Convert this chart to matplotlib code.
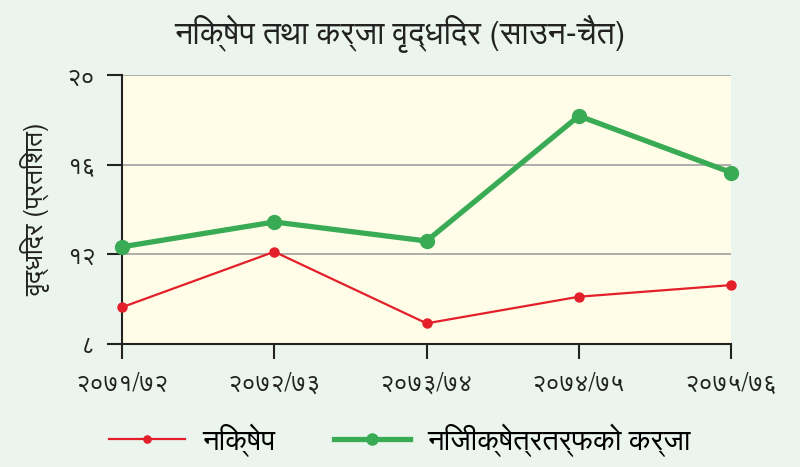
import matplotlib
matplotlib.use("Agg")
import matplotlib.pyplot as plt
from matplotlib import font_manager as fm

# pick an installed font that has Devanagari glyphs, if any
deva_font = None
for f in fm.fontManager.ttflist:
    if "Devanagari" in f.name or "Lohit" in f.name or f.name in ("FreeSans", "Mukta", "Kalimati"):
        deva_font = f.name
        break
families = ([deva_font] if deva_font else []) + ["Noto Sans", "DejaVu Sans"]
plt.rcParams["font.family"] = families

years = ["२०७१/७२", "२०७२/७३", "२०७३/७४", "२०७४/७५", "२०७५/७६"]
deposit = [9.63, 12.11, 8.91, 10.10, 10.62]
private_credit = [12.33, 13.44, 12.59, 18.18, 15.65]
y_ticks = [8, 12, 16, 20]
y_tick_labels = ["८", "१२", "१६", "२०"]

title = "निक्षेप तथा कर्जा वृद्धिदर (साउन-चैत)"
y_label = "वृद्धिदर (प्रतिशत)"
legend_labels = ["निक्षेप", "निजीक्षेत्रतर्फको कर्जा"]

fig = plt.figure(figsize=(8, 4.67), dpi=100)
fig.patch.set_facecolor("#ebf5ee")
ax = fig.add_axes([0.1525, 0.264, 0.7615, 0.575])
ax.set_facecolor("#fffde8")

x = list(range(len(years)))
ax.plot(x, deposit, color="#e3202a", lw=1.6, marker="o", ms=6.5,
        label=legend_labels[0], clip_on=False, zorder=3)
ax.plot(x, private_credit, color="#3aab55", lw=3.8, marker="o", ms=10,
        label=legend_labels[1], clip_on=False, zorder=4)

ax.set_xlim(0, 4)
ax.set_ylim(8, 20)
ax.set_yticks(y_ticks)
ax.set_yticklabels(y_tick_labels)
ax.set_xticks(x)
ax.set_xticklabels(years)
ax.yaxis.grid(True, color="#a0a0a0", lw=1.2)
ax.set_axisbelow(True)
for s in ["top", "right"]:
    ax.spines[s].set_visible(False)
for s in ["left", "bottom"]:
    ax.spines[s].set_color("#222222")
    ax.spines[s].set_linewidth(1.5)
ax.tick_params(axis="both", colors="#222222", width=1.5, length=11,
               labelsize=18, labelcolor="#222222")
ax.tick_params(axis="x", pad=9)
ax.tick_params(axis="y", pad=8)

ax.set_ylabel(y_label, fontsize=19, color="#222222", labelpad=12)
fig.text(0.5, 0.928, title, ha="center", va="center", fontsize=23, color="#222222")

fig.legend(loc="center", bbox_to_anchor=(0.5, 0.058), ncol=2, frameon=False,
           fontsize=21, handlelength=2.6, columnspacing=2.0, handletextpad=0.6,
           markerscale=0.8)

plt.savefig("out.png", dpi=100, facecolor=fig.get_facecolor())
